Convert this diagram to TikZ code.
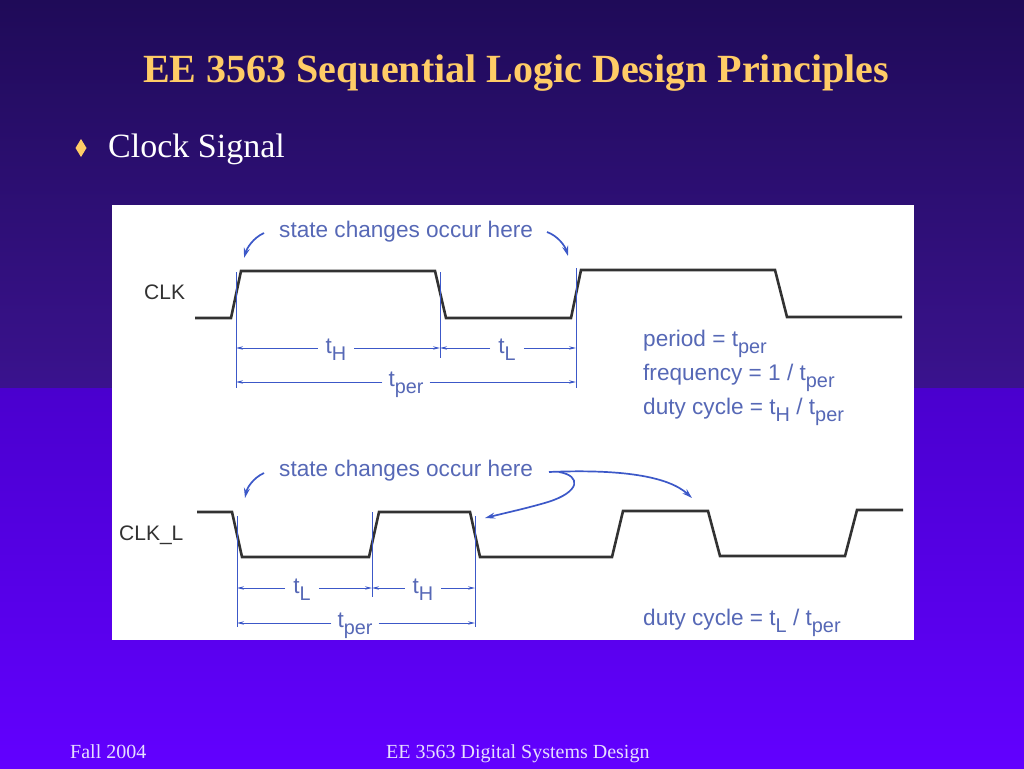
\documentclass[tikz,border=0pt]{standalone}
\usepackage{fontspec}
\usepackage{graphicx}
\setmainfont{Liberation Serif}
\newfontfamily\hv{Liberation Sans}
\usetikzlibrary{arrows.meta}
\definecolor{bgA}{RGB}{31,11,88}
\definecolor{bgB}{RGB}{58,18,142}
\definecolor{bgC}{RGB}{74,0,206}
\definecolor{bgD}{RGB}{98,0,255}
\definecolor{gold}{RGB}{255,204,102}
\definecolor{foot}{RGB}{230,222,255}
\definecolor{dimc}{RGB}{60,88,200}
\definecolor{txtc}{RGB}{86,104,182}
\definecolor{wave}{RGB}{50,50,50}
\newcommand\subs[1]{\raisebox{-0.6ex}{\scalebox{0.88}{#1}}}
\tikzset{
  wavef/.style={draw=wave, line width=2.6pt, line join=miter},
  extl/.style={draw=dimc, line width=0.8pt},
  dimarr/.style={draw=dimc, line width=0.8pt, -{Stealth[length=7pt,width=3.4pt]}},
  dimlab/.style={font=\hv\fontsize{22.5}{22.5}\selectfont, text=txtc, inner sep=3pt, anchor=base},
  dtext/.style={font=\hv\fontsize{22.6}{22.6}\selectfont, text=txtc, inner sep=0pt, anchor=base west},
  sigl/.style={font=\hv\fontsize{21}{21}\selectfont, text=wave, inner sep=0pt, anchor=base west},
  carr/.style={draw=dimc, line width=1.7pt, -{Stealth[length=10pt,width=6pt]}},
}
\begin{document}
\begin{tikzpicture}[x=1pt,y=-1pt]
\useasboundingbox (0,0) rectangle (1024,768);
% background
\shade[top color=bgA, bottom color=bgB] (0,0) rectangle (1024,388);
\shade[top color=bgC, bottom color=bgD] (0,388) rectangle (1024,768);
% title
\node[anchor=base, inner sep=0pt, text=gold, font=\bfseries\fontsize{40}{40}\selectfont] (title) at (516,82) {EE 3563 Sequential Logic Design Principles};
\fill[gold] (81,139) -- (86.5,148) -- (81,157) -- (75.5,148) -- cycle;
\node[anchor=base west, inner sep=0pt, text=white, font=\fontsize{34}{34}\selectfont] (bullet) at (108,157) {Clock Signal};
% footer
\node[anchor=base west, inner sep=0pt, text=foot, font=\fontsize{20}{20}\selectfont] (f1) at (70,758) {Fall 2004};
\node[anchor=base west, inner sep=0pt, text=foot, font=\fontsize{20}{20}\selectfont] (f2) at (386,758) {EE 3563 Digital Systems Design};
% panel
\fill[white] (112,205) rectangle (914,640);

% ---------- CLK ----------
\node[sigl] (clk) at (144,299) {CLK};
\draw[wavef] (195,318) -- (231,318) -- (241,271) -- (435,271) -- (446,318) -- (571,318) -- (581,270) -- (775,270) -- (787,317) -- (902,317);
\coordinate (a1) at (236,272); \coordinate (a2) at (236,388);
\coordinate (b1) at (440,272); \coordinate (b2) at (440,358);
\coordinate (c1) at (576,268); \coordinate (c2) at (576,388);
\draw[extl] (a1) -- (a2);
\draw[extl] (b1) -- (b2);
\draw[extl] (c1) -- (c2);
\coordinate (tHl) at (236,348); \coordinate (tHr) at (440,348);
\coordinate (tLl) at (440,348); \coordinate (tLr) at (576,348);
\coordinate (tPl) at (236,382); \coordinate (tPr) at (576,382);
\node[dimlab, inner sep=8pt] (tH1) at (336,353) {t\subs{H}};
\node[dimlab, inner sep=8pt] (tL1) at (507,353) {t\subs{L}};
\node[dimlab, inner sep=6pt] (tP1) at (406,386) {t\subs{per}};
\draw[dimarr] (tH1.west |- tHl) -- (tHl);
\draw[dimarr] (tH1.east |- tHr) -- (tHr);
\draw[dimarr] (tL1.west |- tLl) -- (tLl);
\draw[dimarr] (tL1.east |- tLr) -- (tLr);
\draw[dimarr] (tP1.west |- tPl) -- (tPl);
\draw[dimarr] (tP1.east |- tPr) -- (tPr);
\node[dtext] (sc1) at (279,237) {state changes occur here};
\coordinate (s1a) at (264,233); \coordinate (s1b) at (244,258);
\coordinate (s2a) at (547,232); \coordinate (s2b) at (568,256);
\draw[carr] (s1a) .. controls (253,238) and (247,248) .. (s1b);
\draw[carr] (s2a) .. controls (558,236) and (565,246) .. (s2b);
\node[dtext] (per) at (643,346) {period = t\subs{per}};
\node[dtext] (freq) at (643,380) {frequency = 1 / t\subs{per}};
\node[dtext] (duty1) at (643,414) {duty cycle = t\subs{H} / t\subs{per}};

% ---------- CLK_L ----------
\node[sigl] (clkl) at (119,540) {CLK\_L};
\draw[wavef] (197,512) -- (232,512) -- (242,557) -- (369,557) -- (379,512) -- (470,512) -- (480,557) -- (612,557) -- (623,511) -- (708,511) -- (720,556) -- (845,556) -- (857,510) -- (903,510);
\coordinate (d1) at (237,516); \coordinate (d2) at (237,627);
\coordinate (e1) at (372,512); \coordinate (e2) at (372,597);
\coordinate (g1) at (475,516); \coordinate (g2) at (475,627);
\draw[extl] (d1) -- (d2);
\draw[extl] (e1) -- (e2);
\draw[extl] (g1) -- (g2);
\coordinate (uLl) at (237,588); \coordinate (uLr) at (372,588);
\coordinate (uHl) at (372,588); \coordinate (uHr) at (475,588);
\coordinate (uPl) at (237,623); \coordinate (uPr) at (475,623);
\node[dimlab, inner sep=8pt] (tL2) at (302,593) {t\subs{L}};
\node[dimlab, inner sep=8pt] (tH2) at (423,593) {t\subs{H}};
\node[dimlab, inner sep=6pt] (tP2) at (355,627) {t\subs{per}};
\draw[dimarr] (tL2.west |- uLl) -- (uLl);
\draw[dimarr] (tL2.east |- uLr) -- (uLr);
\draw[dimarr] (tH2.west |- uHl) -- (uHl);
\draw[dimarr] (tH2.east |- uHr) -- (uHr);
\draw[dimarr] (tP2.west |- uPl) -- (uPl);
\draw[dimarr] (tP2.east |- uPr) -- (uPr);
\node[dtext] (sc2) at (279,476) {state changes occur here};
\coordinate (s3a) at (264,473); \coordinate (s3b) at (245,498);
\coordinate (s4a) at (549,472); \coordinate (s4b) at (692,498);
\coordinate (s5a) at (559,472); \coordinate (s5b) at (485,518);
\draw[carr] (s3a) .. controls (253,478) and (247,488) .. (s3b);
\draw[carr] (s4a) .. controls (620,469) and (668,476) .. (s4b);
\draw[carr] (s5a) .. controls (582,476) and (580,492) .. (548,502) .. controls (528,508) and (505,513) .. (s5b);
\node[dtext] (duty2) at (643,625) {duty cycle = t\subs{L} / t\subs{per}};
\end{tikzpicture}
\end{document}
